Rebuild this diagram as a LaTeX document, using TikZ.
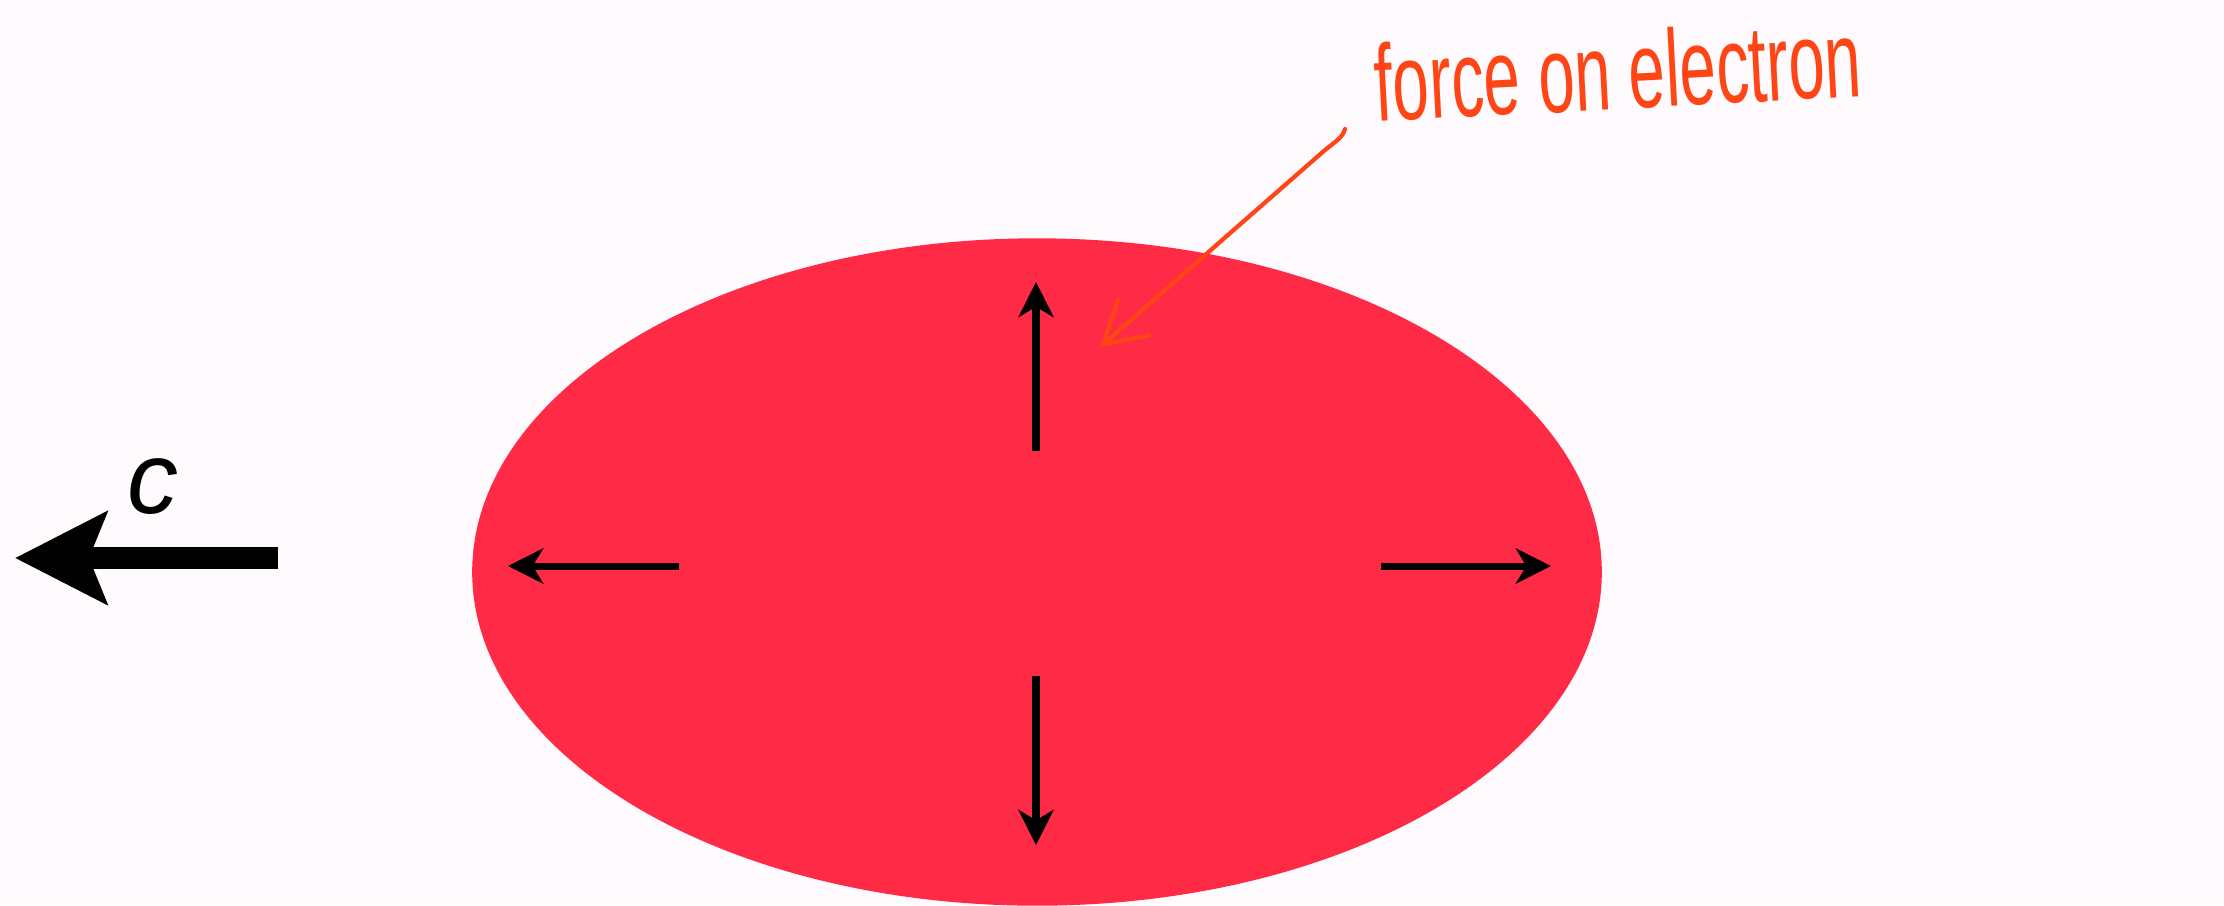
\documentclass[tikz,border=0pt]{standalone}
\usepackage{fontspec}
\usetikzlibrary{arrows.meta,positioning,shapes.geometric}
\newfontfamily\labelfont{Liberation Sans}
\definecolor{Paper}{HTML}{FEFAFE}
\definecolor{Bunch}{HTML}{FF2A45}
\definecolor{Marker}{HTML}{FF4515}
\tikzset{
    every node/.style={font=\small},
    bunchblob/.style={
        ellipse, fill=Bunch, draw=none,
        minimum width=11.29cm, minimum height=6.67cm,
        inner sep=0pt
    },
    forcearrow/.style={
        -{Stealth[length=10pt,width=10pt,inset=3pt]}, line width=2pt, black
    },
    speedarrow/.style={
        -{Stealth[length=26pt,width=26pt,inset=5pt]}, line width=6.5pt, black
    },
    notearrow/.style={
        -{Straight Barb[length=12pt,width=14pt]}, line width=1.2pt,
        color=Marker, line cap=round
    },
}

\begin{document}
\begin{tikzpicture}[x=0.01cm, y=-0.01cm]
    % Paper
    \fill[Paper] (0,0) rectangle (2224,905);
    \useasboundingbox (0,0) rectangle (2224,905);

    % Charge bunch
    \node[bunchblob] (bunch) at (1037,572) {};

    % Field arrows
    \coordinate (upS) at (1036,451);   \coordinate (upE) at (1036,282);
    \coordinate (downS) at (1036,676); \coordinate (downE) at (1036,845);
    \coordinate (leftS) at (679,566);  \coordinate (leftE) at (508,566);
    \coordinate (rightS) at (1381,566); \coordinate (rightE) at (1551,566);
    \draw[forcearrow] (upS) -- (upE);
    \draw[forcearrow] (downS) -- (downE);
    \draw[forcearrow] (leftS) -- (leftE);
    \draw[forcearrow] (rightS) -- (rightE);

    % Direction of motion
    \coordinate (speedS) at (278,558);
    \coordinate (speedE) at (15,558);
    \draw[speedarrow] (speedS) -- (speedE);
    \node[font=\labelfont\itshape\fontsize{29}{29}\selectfont] (clabel) at (153,487) {c};

    % Annotation
    \node[font=\labelfont\fontsize{31}{31}\selectfont, text=Marker,
          rotate=3, xscale=0.6] (note) at (1618,70) {force on electron};
    \coordinate (noteS) at (1345,129);
    \coordinate (noteE) at (1100,347);
    \draw[notearrow] (noteS) .. controls (1343,137) and (1335,142) .. (1325,150) -- (noteE);
\end{tikzpicture}
\end{document}
